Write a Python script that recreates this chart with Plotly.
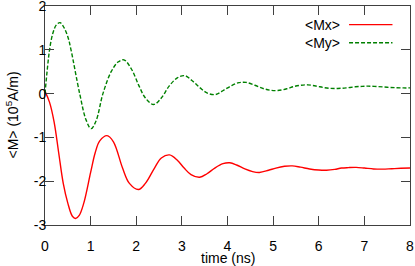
import plotly.graph_objects as go

t_mx = [0, 0.1, 0.2, 0.3, 0.4, 0.5, 0.6, 0.67, 0.75, 0.85, 1.0, 1.1, 1.2, 1.36, 1.5, 1.7, 1.85,
        2.05, 2.2, 2.4, 2.55, 2.73, 2.9, 3.05, 3.2, 3.39, 3.55, 3.72, 3.9, 4.05, 4.2, 4.38,
        4.55, 4.7, 4.9, 5.06, 5.25, 5.42, 5.6, 5.8, 6.0, 6.17, 6.35, 6.5, 6.65, 6.82, 7.0,
        7.2, 7.4, 7.6, 7.8, 8.0]
mx = [0.05, -0.2, -0.65, -1.35, -2.05, -2.5, -2.8, -2.85, -2.78, -2.5, -1.8, -1.35, -1.08,
      -0.96, -1.1, -1.7, -2.05, -2.19, -2.05, -1.7, -1.47, -1.4, -1.52, -1.7, -1.85, -1.91,
      -1.83, -1.7, -1.6, -1.58, -1.63, -1.72, -1.78, -1.8, -1.75, -1.7, -1.66, -1.65, -1.68,
      -1.72, -1.745, -1.75, -1.73, -1.7, -1.69, -1.685, -1.7, -1.72, -1.725, -1.715, -1.705,
      -1.70]

t_my = [0, 0.05, 0.1, 0.17, 0.25, 0.33, 0.42, 0.5, 0.57, 0.76, 0.9, 1.01, 1.12, 1.27, 1.45,
        1.6, 1.73, 1.9, 2.05, 2.2, 2.38, 2.55, 2.72, 2.9, 3.06, 3.22, 3.4, 3.56, 3.74, 3.92,
        4.1, 4.25, 4.41, 4.6, 4.8, 4.95, 5.1, 5.3, 5.45, 5.6, 5.76, 5.95, 6.1, 6.25, 6.42,
        6.6, 6.8, 6.95, 7.08, 7.3, 7.5, 7.7, 7.85, 8.0]
my = [0.0, 0.55, 1.0, 1.37, 1.57, 1.62, 1.5, 1.3, 1.0, 0.0, -0.6, -0.8, -0.62, 0.0, 0.5,
      0.72, 0.77, 0.55, 0.2, -0.1, -0.25, -0.1, 0.17, 0.36, 0.41, 0.3, 0.13, 0.01, -0.02,
      0.08, 0.19, 0.25, 0.255, 0.19, 0.11, 0.075, 0.07, 0.11, 0.16, 0.19, 0.2, 0.17, 0.14,
      0.12, 0.118, 0.13, 0.155, 0.165, 0.17, 0.16, 0.145, 0.135, 0.13, 0.13]

x_ticks = [0, 1, 2, 3, 4, 5, 6, 7, 8]
y_ticks = [-3, -2, -1, 0, 1, 2]
names = ["&lt;Mx&gt;", "&lt;My&gt;"]
colors = ["#ff0000", "#008000"]
x_title = "time (ns)"
y_title = "&lt;M&gt; (10<sup>5</sup>A/m)"

FONT = "Liberation Sans, Arial, Helvetica, sans-serif"
AX = "#404040"

fig = go.Figure()
fig.add_trace(go.Scatter(x=t_mx, y=mx, mode="lines", name=names[0],
                         line=dict(color=colors[0], width=1.4, shape="spline", smoothing=1.0)))
fig.add_trace(go.Scatter(x=t_my, y=my, mode="lines", name=names[1],
                         line=dict(color=colors[1], width=1.4, shape="spline", smoothing=1.0,
                                   dash="4px,2px")))

# legend drawn gnuplot-style: text then sample line
leg_y = [0.915, 0.832]
for i in range(2):
    fig.add_annotation(xref="paper", yref="paper", x=0.813, y=leg_y[i], text=names[i],
                       showarrow=False, xanchor="right", yanchor="middle",
                       font=dict(family=FONT, size=14, color="black"))
    fig.add_shape(type="line", xref="paper", yref="paper", x0=0.833, x1=0.952,
                  y0=leg_y[i], y1=leg_y[i],
                  line=dict(color=colors[i], width=1.4, dash="solid" if i == 0 else "4px,2px"))

# axis titles
fig.add_annotation(xref="paper", yref="paper", x=0.5, y=0, yshift=-33, text=x_title,
                   showarrow=False, xanchor="center", yanchor="middle",
                   font=dict(family=FONT, size=14, color="black"))
fig.add_annotation(xref="paper", yref="paper", x=0, y=0.5, xshift=-33, text=y_title,
                   showarrow=False, xanchor="center", yanchor="middle", textangle=-90,
                   font=dict(family=FONT, size=14, color="black"))

axis_common = dict(showline=True, linecolor=AX, linewidth=1, mirror="ticks", ticks="inside",
                   ticklen=9, tickcolor=AX, tickwidth=1, showgrid=False, zeroline=False,
                   ticklabeloverflow="allow", automargin=False,
                   tickfont=dict(family=FONT, size=14, color="black"))

fig.update_layout(
    width=415, height=266,
    margin=dict(l=45, r=5, t=6, b=41, autoexpand=False),
    plot_bgcolor="white", paper_bgcolor="white",
    showlegend=False,
    xaxis=dict(range=[0, 8], tickvals=x_ticks, ticktext=[str(v) for v in x_ticks],
               ticklabelstandoff=8, **axis_common),
    yaxis=dict(range=[-3, 2], tickvals=y_ticks, ticktext=[str(v) for v in y_ticks],
               ticklabelstandoff=-5, **axis_common),
)

fig.write_html("out.html", config={"displayModeBar": False},
               post_script="document.body.style.margin='0px';")
